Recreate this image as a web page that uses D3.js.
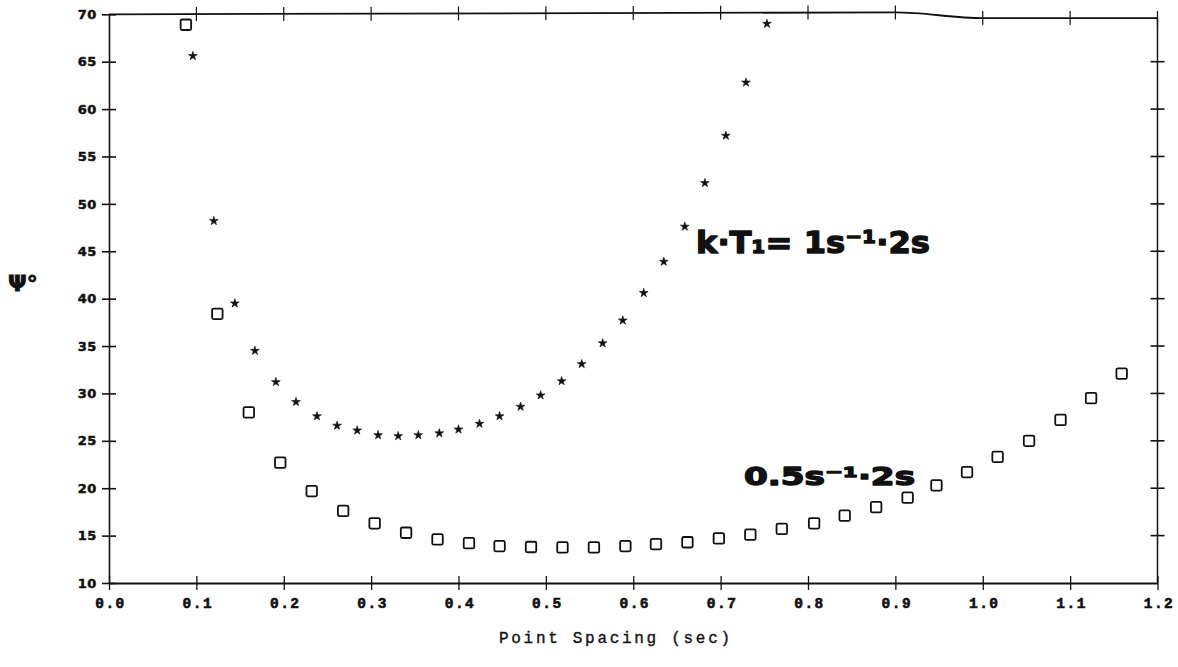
<!DOCTYPE html>
<html>
<head>
<meta charset="utf-8">
<script src="https://cdn.jsdelivr.net/npm/d3@7"></script>
<style>
  html, body { margin: 0; padding: 0; background: #fff; }
  svg { display: block; }
</style>
</head>
<body>
<svg id="chart" width="1178" height="667"></svg>
<script>
// ---- data ----
const starX = [0.096, 0.120, 0.144, 0.167, 0.191, 0.214, 0.238, 0.261, 0.284, 0.308,
               0.331, 0.354, 0.378, 0.400, 0.424, 0.447, 0.471, 0.494, 0.518, 0.541,
               0.565, 0.588, 0.612, 0.635, 0.659, 0.682, 0.706, 0.729, 0.753];
const starY = [65.6, 48.2, 39.5, 34.5, 31.2, 29.1, 27.6, 26.6, 26.1, 25.6,
               25.5, 25.6, 25.8, 26.2, 26.8, 27.6, 28.6, 29.8, 31.3, 33.1,
               35.3, 37.7, 40.6, 43.9, 47.6, 52.2, 57.2, 62.8, 69.0];

const squareX = [0.088, 0.124, 0.160, 0.196, 0.232, 0.268, 0.304, 0.340, 0.376, 0.412,
                 0.447, 0.483, 0.519, 0.555, 0.591, 0.626, 0.662, 0.698, 0.734, 0.770,
                 0.807, 0.842, 0.878, 0.914, 0.947, 0.982, 1.017, 1.053, 1.089, 1.124, 1.159];
const squareY = [68.9, 38.4, 28.0, 22.7, 19.7, 17.6, 16.3, 15.3, 14.6, 14.2,
                 13.9, 13.8, 13.75, 13.75, 13.9, 14.1, 14.3, 14.7, 15.1, 15.7,
                 16.3, 17.1, 18.0, 19.0, 20.3, 21.7, 23.3, 25.0, 27.2, 29.5, 32.1];

const xTicks = [0.0, 0.1, 0.2, 0.3, 0.4, 0.5, 0.6, 0.7, 0.8, 0.9, 1.0, 1.1, 1.2];
const yTicks = [10, 15, 20, 25, 30, 35, 40, 45, 50, 55, 60, 65, 70];

// slightly warped top frame edge of the scanned original
const topEdgeX = [0.0, 0.9, 1.0, 1.2];
const topEdgeY = [70, 70.2, 69.6, 69.6];

const xTitle = "Point Spacing (sec)";
const yTitle = "Ψ°";
const starLabel = "k·T₁= 1s⁻¹·2s";
const squareLabel = "0.5s⁻¹·2s";

// ---- layout ----
const svg = d3.select("#chart");
const x = d3.scaleLinear().domain([0, 1.2]).range([109, 1157.5]);
const y = d3.scaleLinear().domain([10, 70]).range([583, 14.3]);
const TK = 7;
const ink = "#111";

const edge = d3.scaleLinear().domain(topEdgeX).range(topEdgeY);

// bottom axis
const gx = svg.append("g").attr("transform", `translate(0,${y(10)})`)
  .call(d3.axisBottom(x).tickValues(xTicks).tickFormat(d3.format(".1f"))
        .tickSizeInner(TK).tickSizeOuter(0).tickPadding(8));
gx.selectAll(".tick").append("line").attr("y2", -TK).attr("stroke", "currentColor");
gx.select(".domain").attr("stroke-width", 1.8);
gx.selectAll(".tick line").attr("stroke-width", 1.3);
gx.selectAll("text")
  .attr("font-family", "'Liberation Mono', 'DejaVu Sans Mono', monospace")
  .attr("font-weight", "bold").attr("font-size", 14.5).style("letter-spacing", "1.5px")
  .attr("stroke", ink).attr("stroke-width", 0.6)
  .attr("dx", "1px");

// left axis
const gy = svg.append("g").attr("transform", `translate(${x(0)},0)`)
  .call(d3.axisLeft(y).tickValues(yTicks).tickFormat(d3.format("d"))
        .tickSizeInner(TK).tickSizeOuter(0).tickPadding(5));
gy.selectAll(".tick").append("line").attr("x2", TK).attr("stroke", "currentColor");
gy.select(".domain").attr("stroke-width", 1.6);
gy.selectAll(".tick line").attr("stroke-width", 1.6);
gy.selectAll("text")
  .attr("font-family", "'DejaVu Sans', sans-serif")
  .attr("font-weight", "bold").attr("font-size", 13)
  .style("letter-spacing", "0.6px")
  .attr("stroke", ink).attr("stroke-width", 0.5);

svg.selectAll(".domain, .tick line").attr("stroke", ink);
svg.selectAll(".tick text").attr("fill", ink);

// top edge
const topPts = topEdgeX.map((v, i) => [x(v), y(topEdgeY[i])]);
svg.append("path").attr("d", d3.line().curve(d3.curveMonotoneX)(topPts))
  .attr("fill", "none").attr("stroke", ink).attr("stroke-width", 1.8);
svg.append("g").selectAll("line").data(xTicks.filter(d => d > 0)).join("line")
  .attr("x1", d => x(d)).attr("x2", d => x(d))
  .attr("y1", d => y(edge(d)) - TK).attr("y2", d => y(edge(d)) + TK)
  .attr("stroke", ink).attr("stroke-width", 1.2);

// right edge
const xr = x(1.2);
svg.append("line").attr("x1", xr).attr("x2", xr)
  .attr("y1", y(edge(1.2))).attr("y2", y(10))
  .attr("stroke", ink).attr("stroke-width", 1.5);
svg.append("g").selectAll("line").data(yTicks.filter(d => d > 10 && d < 70)).join("line")
  .attr("x1", xr - TK).attr("x2", xr + TK)
  .attr("y1", d => y(d)).attr("y2", d => y(d))
  .attr("stroke", ink).attr("stroke-width", 1.6);

// star series
const star = d3.symbol().type(d3.symbolStar).size(24);
svg.append("g").selectAll("path").data(starX.map((v, i) => [v, starY[i]])).join("path")
  .attr("d", star)
  .attr("transform", d => `translate(${x(d[0])},${y(d[1])})`)
  .attr("fill", ink).attr("stroke", ink).attr("stroke-width", 0.6)
  .attr("stroke-linejoin", "round");

// square series
const S = 10.5;
svg.append("g").selectAll("rect").data(squareX.map((v, i) => [v, squareY[i]])).join("rect")
  .attr("x", d => x(d[0]) - S / 2).attr("y", d => y(d[1]) - S / 2)
  .attr("width", S).attr("height", S).attr("rx", 1.5)
  .attr("fill", "none").attr("stroke", ink).attr("stroke-width", 1.8);

// axis titles
svg.append("text").attr("x", 499).attr("y", 643)
  .attr("font-family", "'Liberation Mono', 'DejaVu Sans Mono', monospace")
  .attr("font-size", 16).style("letter-spacing", "2.7px").attr("fill", ink)
  .attr("stroke", ink).attr("stroke-width", 0.35)
  .text(xTitle);

svg.append("text").attr("x", 8).attr("y", 291)
  .attr("font-family", "'DejaVu Sans', sans-serif").attr("font-weight", "bold")
  .attr("font-size", 22).attr("fill", ink).attr("stroke", ink).attr("stroke-width", 0.8)
  .text(yTitle);

// annotations (heavy, horizontally stretched lettering)
function label(str, x0, x1, base, size) {
  svg.append("text").attr("x", x0).attr("y", base)
    .attr("font-family", "'DejaVu Sans', sans-serif")
    .attr("font-weight", "bold").attr("font-size", size)
    .attr("textLength", x1 - x0).attr("lengthAdjust", "spacingAndGlyphs")
    .attr("fill", ink).attr("stroke", ink).attr("stroke-width", 1.4)
    .attr("stroke-linejoin", "round")
    .text(str);
}
label(starLabel, 696, 930, 253, 31);
label(squareLabel, 744, 915, 485, 25);
</script>
</body>
</html>
